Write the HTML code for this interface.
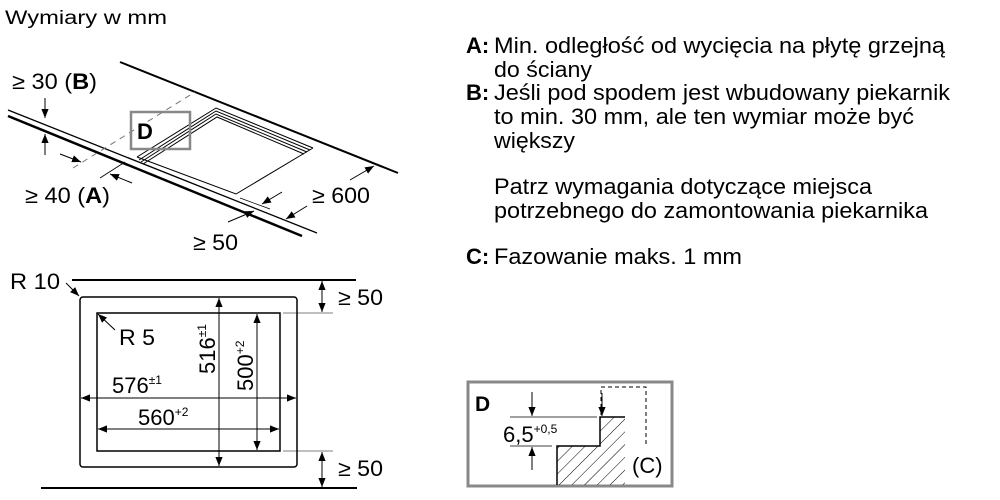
<!DOCTYPE html>
<html><head><meta charset="utf-8"><style>
html,body{margin:0;padding:0;background:#fff;}
svg{display:block;font-family:"Liberation Sans",sans-serif;}
</style></head><body>
<svg width="1000" height="500" viewBox="0 0 1000 500" xmlns="http://www.w3.org/2000/svg">
<defs>
<marker id="ar" viewBox="0 0 10 10" refX="10" refY="5" markerWidth="9" markerHeight="9" orient="auto-start-reverse" markerUnits="userSpaceOnUse"><path d="M0,1 L10,5 L0,9 z" fill="#000"/></marker>
<pattern id="hatch" patternUnits="userSpaceOnUse" width="9" height="9" patternTransform="rotate(45)"><line x1="0" y1="0" x2="0" y2="9" stroke="#000" stroke-width="1"/></pattern>
</defs>
<g fill="#000">
<text x="5" y="24" font-size="19" textLength="162" lengthAdjust="spacingAndGlyphs">Wymiary w mm</text>
<line x1="120" y1="62" x2="398" y2="173" stroke="#000" stroke-width="2"/>
<line x1="8" y1="110" x2="317" y2="233" stroke="#000" stroke-width="1.3"/>
<line x1="8" y1="116" x2="302" y2="236" stroke="#000" stroke-width="2.5"/>
<line x1="73" y1="168" x2="195" y2="92" stroke="#777" stroke-width="1" stroke-dasharray="6,5"/>
<g fill="none" stroke="#000" stroke-width="1">
<polyline points="137,157 216,108 313,148"/>
<polyline points="139,160 216,111 310,150"/>
<polyline points="141,162 216,114 307,152"/>
<polyline points="143,164 217,117 304,154"/>
<polyline points="137,157 236,194 313,148"/>
</g>
<rect x="131" y="112" width="59" height="37" fill="none" stroke="#888" stroke-width="2.5"/>
<text x="137" y="139" font-size="22" font-weight="bold">D</text>
<line x1="45" y1="98" x2="45" y2="118" stroke="#000" marker-end="url(#ar)"/>
<line x1="45" y1="155" x2="45" y2="134" stroke="#000" marker-end="url(#ar)"/>
<line x1="60" y1="154" x2="81" y2="162" stroke="#000" marker-end="url(#ar)"/>
<line x1="132" y1="183" x2="110" y2="174" stroke="#000" marker-end="url(#ar)"/>
<line x1="100" y1="178" x2="125" y2="162" stroke="#000" stroke-width="0.8"/>
<line x1="240" y1="198" x2="270" y2="209" stroke="#000" stroke-width="0.8"/>
<line x1="282" y1="192" x2="262" y2="204" stroke="#000" marker-end="url(#ar)"/>
<line x1="228" y1="222" x2="254" y2="211" stroke="#000" marker-end="url(#ar)"/>
<line x1="307" y1="206" x2="286" y2="219" stroke="#000" marker-end="url(#ar)"/>
<line x1="350" y1="180" x2="374" y2="166" stroke="#000" marker-end="url(#ar)"/>
<g font-size="22">
<text x="12" y="89" textLength="85" lengthAdjust="spacingAndGlyphs">≥ 30 (<tspan font-weight="bold">B</tspan>)</text>
<text x="25" y="203" textLength="85" lengthAdjust="spacingAndGlyphs">≥ 40 (<tspan font-weight="bold">A</tspan>)</text>
<text x="312" y="203" textLength="58" lengthAdjust="spacingAndGlyphs">≥ 600</text>
<text x="193" y="250" textLength="45" lengthAdjust="spacingAndGlyphs">≥ 50</text>
</g>
<line x1="72" y1="280" x2="356" y2="280" stroke="#000" stroke-width="2"/>
<line x1="41" y1="488" x2="357" y2="488" stroke="#000" stroke-width="2"/>
<rect x="80" y="297" width="217" height="170" rx="3" fill="none" stroke="#000" stroke-width="1.5"/>
<rect x="97" y="313" width="183" height="138" fill="none" stroke="#000" stroke-width="1.5"/>
<line x1="283" y1="313" x2="333" y2="313" stroke="#000" stroke-width="0.6"/>
<line x1="283" y1="451" x2="333" y2="451" stroke="#000" stroke-width="0.6"/>
<line x1="81" y1="398" x2="296" y2="398" stroke="#000" marker-start="url(#ar)" marker-end="url(#ar)"/>
<line x1="98" y1="429" x2="279" y2="429" stroke="#000" marker-start="url(#ar)" marker-end="url(#ar)"/>
<line x1="219" y1="298" x2="219" y2="466" stroke="#000" marker-start="url(#ar)" marker-end="url(#ar)"/>
<line x1="257" y1="314" x2="257" y2="450" stroke="#000" marker-start="url(#ar)" marker-end="url(#ar)"/>
<line x1="322" y1="281" x2="322" y2="312" stroke="#000" marker-start="url(#ar)" marker-end="url(#ar)"/>
<line x1="322" y1="452" x2="322" y2="487" stroke="#000" marker-start="url(#ar)" marker-end="url(#ar)"/>
<line x1="66" y1="283" x2="79" y2="296" stroke="#000" marker-end="url(#ar)"/>
<line x1="115" y1="330" x2="98" y2="314" stroke="#000" marker-end="url(#ar)"/>
<g font-size="22">
<text x="10" y="289" textLength="50" lengthAdjust="spacingAndGlyphs">R 10</text>
<text x="119" y="345" textLength="36" lengthAdjust="spacingAndGlyphs">R 5</text>
<text x="112" y="393">576<tspan font-size="12" dy="-9">±1</tspan></text>
<text x="138" y="425">560<tspan font-size="12" dy="-9">+2</tspan></text>
<text transform="translate(215,374) rotate(-90)">516<tspan font-size="12" dy="-9">±1</tspan></text>
<text transform="translate(253,391) rotate(-90)">500<tspan font-size="12" dy="-9">+2</tspan></text>
<text x="338" y="305" textLength="45" lengthAdjust="spacingAndGlyphs">≥ 50</text>
<text x="338" y="476" textLength="45" lengthAdjust="spacingAndGlyphs">≥ 50</text>
</g>
<g font-size="22">
<text x="466" y="53" font-weight="bold">A:</text>
<text x="494" y="53" textLength="451" lengthAdjust="spacingAndGlyphs">Min. odległość od wycięcia na płytę grzejną</text>
<text x="494" y="77" textLength="98" lengthAdjust="spacingAndGlyphs">do ściany</text>
<text x="466" y="100" font-weight="bold">B:</text>
<text x="494" y="100" textLength="456" lengthAdjust="spacingAndGlyphs">Jeśli pod spodem jest wbudowany piekarnik</text>
<text x="494" y="124" textLength="420" lengthAdjust="spacingAndGlyphs">to min. 30 mm, ale ten wymiar może być</text>
<text x="494" y="148" textLength="81" lengthAdjust="spacingAndGlyphs">większy</text>
<text x="494" y="194" textLength="378" lengthAdjust="spacingAndGlyphs">Patrz wymagania dotyczące miejsca</text>
<text x="494" y="218" textLength="434" lengthAdjust="spacingAndGlyphs">potrzebnego do zamontowania piekarnika</text>
<text x="466" y="264" font-weight="bold">C:</text>
<text x="494" y="264" textLength="248" lengthAdjust="spacingAndGlyphs">Fazowanie maks. 1 mm</text>
</g>
<rect x="468" y="382" width="204" height="104" fill="none" stroke="#888" stroke-width="3"/>
<text x="475" y="411" font-size="21" font-weight="bold">D</text>
<polygon points="557,485 557,446 600,446 600,417 625,417 625,485" fill="url(#hatch)" stroke="none"/>
<polyline points="557,485 557,446 600,446 600,417 625,417" fill="none" stroke="#000" stroke-width="1.5"/>
<polyline points="601,415 601,387 646,387 646,447" fill="none" stroke="#000" stroke-dasharray="4,3"/>
<line x1="510" y1="417" x2="597" y2="417" stroke="#000" stroke-width="0.7"/>
<line x1="510" y1="446" x2="552" y2="446" stroke="#000" stroke-width="0.7"/>
<line x1="532" y1="392" x2="532" y2="416" stroke="#000" marker-end="url(#ar)"/>
<line x1="532" y1="470" x2="532" y2="447" stroke="#000" marker-end="url(#ar)"/>
<line x1="602" y1="393" x2="602" y2="416" stroke="#000" marker-end="url(#ar)"/>
<text x="503" y="442" font-size="22">6,5<tspan font-size="12" dy="-9">+0,5</tspan></text>
<text x="632" y="473" font-size="22">(C)</text>
</g>
</svg>
</body></html>
